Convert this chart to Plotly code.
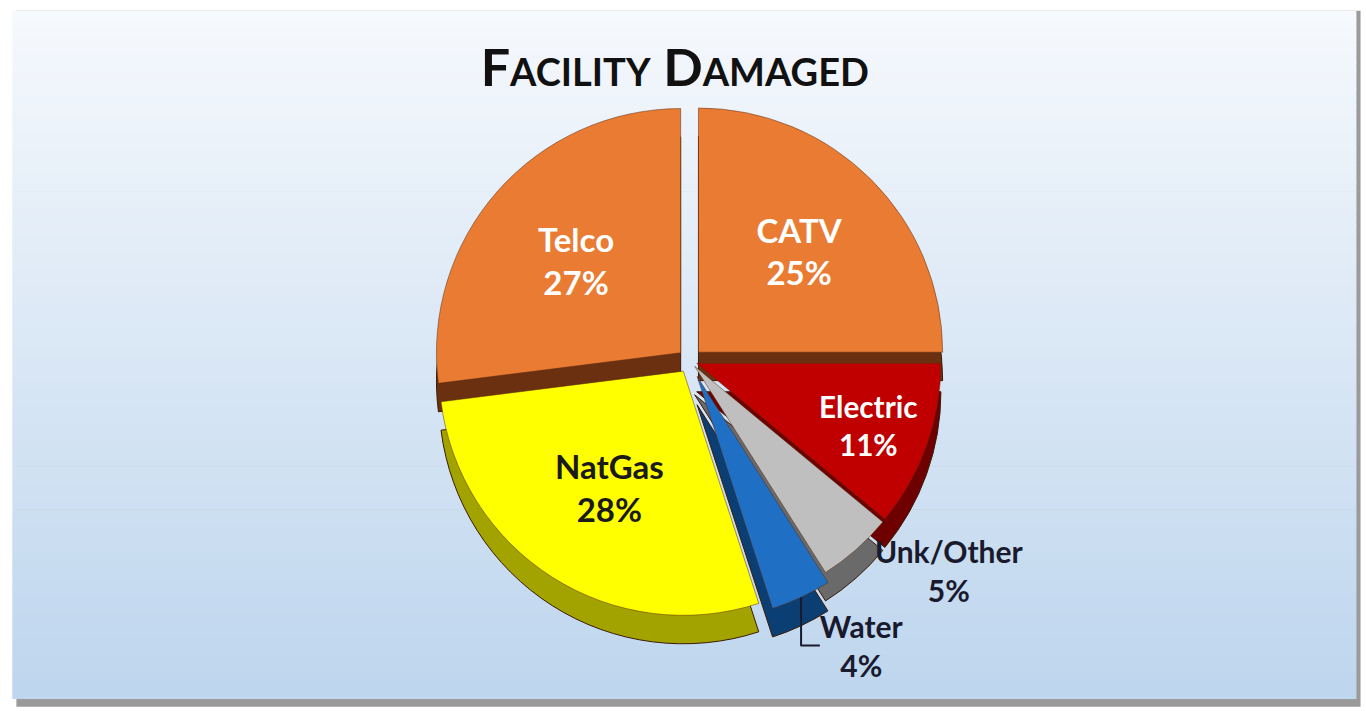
import plotly.graph_objects as go

categories = ["CATV", "Electric", "Unk/Other", "Water", "NatGas", "Telco"]
values = [25, 11, 5, 4, 28, 27]
colors = ["#E97B33", "#C00000", "#BFBFBF", "#1F6FC5", "#FFFF00", "#E97B33"]
side_colors = ["#6b3010", "#6e0000", "#6a6a6a", "#0b3f73", "#a3a300", "#6b3010"]
text_colors = ["white", "white", "#1a1a2e", "#1a1a2e", "#1a1a1a", "white"]
positions = ["inside", "inside", "outside", "outside", "inside", "inside"]
pulls = [0.05, 0.03, 0.03, 0.07, 0.05, 0.05]

font_family = "Lato, Carlito, sans-serif"
top_domain = dict(x=[0.24, 0.77], y=[0.125, 0.86])
depth = 0.04
side_domain = dict(x=top_domain["x"], y=[top_domain["y"][0] - depth, top_domain["y"][1] - depth])

fig = go.Figure()

# extruded side (3D depth imitation)
fig.add_trace(go.Pie(
    labels=categories, values=values, sort=False, direction="clockwise", rotation=0,
    pull=pulls, marker=dict(colors=side_colors, line=dict(color="#3a1a08", width=1)),
    textinfo="none", domain=side_domain, showlegend=False, hoverinfo="skip",
    automargin=False,
))

fig.add_trace(go.Pie(
    labels=categories,
    values=values,
    sort=False,
    direction="clockwise",
    rotation=0,
    pull=pulls,
    marker=dict(colors=colors, line=dict(color="#5a2a10", width=0.5)),
    texttemplate="<b>%{label}<br>%{percent:.0%}</b>",
    textposition=positions,
    insidetextorientation="horizontal",
    textfont=dict(family=font_family, size=33, color=text_colors),
    outsidetextfont=dict(family=font_family, size=30, color="#1a1a2e"),
    domain=top_domain,
    showlegend=False,
    hoverinfo="label+percent",
    automargin=False,
))

shapes = []
shapes.append(dict(type="rect", xref="paper", yref="paper", x0=0.012, x1=0.996, y0=0.006, y1=0.985,
                   fillcolor="#9a9a9a", line=dict(width=0), layer="below"))
n = 80
top, bottom = 0.985, 0.018
c_top = (246, 249, 253)
c_bot = (190, 214, 238)
for i in range(n):
    t = i / (n - 1)
    r = int(c_top[0] + (c_bot[0] - c_top[0]) * t)
    g = int(c_top[1] + (c_bot[1] - c_top[1]) * t)
    b = int(c_top[2] + (c_bot[2] - c_top[2]) * t)
    y1 = top - (top - bottom) * i / n
    y0 = top - (top - bottom) * (i + 1) / n
    shapes.append(dict(type="rect", xref="paper", yref="paper", x0=0.009, x1=0.993, y0=y0 - 0.001, y1=y1,
                       fillcolor=f"rgb({r},{g},{b})", line=dict(width=0), layer="below"))

fig.update_layout(
    width=1366, height=711,
    margin=dict(l=0, r=0, t=0, b=0, autoexpand=False),
    paper_bgcolor="white",
    shapes=shapes,
    title=dict(
        text="<b>F<span style='font-size:38px'>ACILITY</span> D<span style='font-size:38px'>AMAGED</span></b>",
        x=0.494, xanchor="center", y=0.905, yanchor="middle",
        font=dict(family=font_family, size=52, color="#111111"),
    ),
)

fig.write_html("out.html")
